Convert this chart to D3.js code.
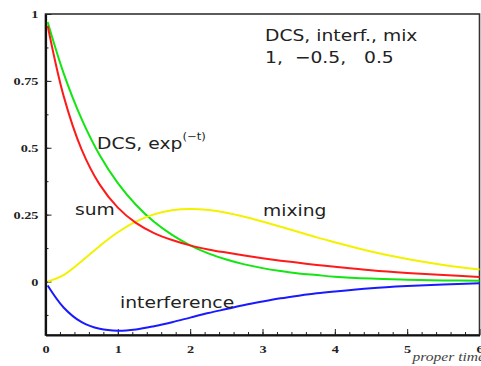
<!DOCTYPE html>
<html>
<head>
<meta charset="utf-8">
<script src="https://cdn.jsdelivr.net/npm/d3@7/dist/d3.min.js"></script>
<style>
	body { margin: 0; background: #fff; }
	svg { display: block; }
</style>
</head>
<body>
<div id="chart"></div>
<script>
// proper time samples and curve values
var times        = [0.03, 0.25, 0.5, 0.75, 1, 1.25, 1.5, 1.75, 2, 2.25, 2.5, 2.75, 3, 3.25, 3.5, 3.75, 4, 4.5, 5, 5.5, 6];
var dcs          = [0.970, 0.779, 0.607, 0.472, 0.368, 0.287, 0.223, 0.174, 0.135, 0.105, 0.082, 0.064, 0.050, 0.039, 0.030, 0.024, 0.018, 0.011, 0.007, 0.004, 0.0025];
var interference = [-0.015, -0.097, -0.152, -0.177, -0.184, -0.179, -0.167, -0.152, -0.135, -0.118, -0.103, -0.088, -0.075, -0.063, -0.053, -0.044, -0.037, -0.025, -0.017, -0.011, -0.007];
var mixing       = [0.000, 0.024, 0.076, 0.133, 0.184, 0.224, 0.251, 0.266, 0.271, 0.267, 0.257, 0.242, 0.224, 0.205, 0.185, 0.165, 0.147, 0.112, 0.084, 0.062, 0.045];
var sum          = [0.956, 0.694, 0.493, 0.362, 0.276, 0.219, 0.181, 0.155, 0.135, 0.120, 0.108, 0.097, 0.087, 0.078, 0.070, 0.062, 0.055, 0.042, 0.032, 0.024, 0.017];

var xTicks = [0, 1, 2, 3, 4, 5, 6];
var yTicks = [0, 0.25, 0.5, 0.75, 1];
var yTickLabels = ['0', '0.25', '0.5', '0.75', '1'];

var svgWidth = 481;
var svgHeight = 366;
var stretch = 1.3;     // serif labels look horizontally stretched
var sansStretch = 1.17;

var x = d3.scaleLinear().domain([0, 6]).range([45.5, 479.5]);
var y = d3.scaleLinear().domain([-0.2, 1]).range([335, 14]);

var svg = d3.select('#chart')
	.append('svg')
	.attr('width', svgWidth)
	.attr('height', svgHeight)
	.style('background', '#fff')
;

//рамка
svg.append('rect')
	.attr('x', x(0))
	.attr('y', y(1))
	.attr('width', x(6) - x(0))
	.attr('height', y(-0.2) - y(1))
	.style('fill', 'none')
	.style('stroke', '#333')
	.style('stroke-width', 1.6)
;

//minor ticks
var xMinor = d3.range(0, 30).map(function(i){ return i * 0.2; });
var yMinor = d3.range(-1, 8).map(function(i){ return i * 0.125; });

svg.append('g')
	.attr('transform', 'translate(0,' + y(-0.2) + ')')
	.call(d3.axisBottom(x).tickValues(xMinor).tickSize(-3).tickFormat(''))
	.call(function(g){ g.select('.domain').remove(); })
	.selectAll('line').style('stroke', '#222')
;
svg.append('g')
	.attr('transform', 'translate(' + x(0) + ',0)')
	.call(d3.axisLeft(y).tickValues(yMinor).tickSize(-3).tickFormat(''))
	.call(function(g){ g.select('.domain').remove(); })
	.selectAll('line').style('stroke', '#222')
;

//major ticks + labels
var xAxis = svg.append('g')
	.attr('transform', 'translate(0,' + y(-0.2) + ')')
	.call(d3.axisBottom(x).tickValues(xTicks).tickSize(-6).tickSizeOuter(0).tickPadding(10).tickFormat(d3.format('d')))
;
var yAxis = svg.append('g')
	.attr('transform', 'translate(' + x(0) + ',0)')
	.call(d3.axisLeft(y).tickValues(yTicks).tickSize(-6).tickSizeOuter(0)
		.tickFormat(function(d, i){ return yTickLabels[i]; }))
;

[xAxis, yAxis].forEach(function(a){
	a.select('.domain').style('stroke', '#111').style('stroke-width', 2.2);
	a.selectAll('line').style('stroke', '#222');
	a.selectAll('text')
		.style('font-family', '"Liberation Serif", serif')
		.style('font-weight', 'bold')
		.style('font-size', '11px')
		.style('fill', '#222')
	;
});
xAxis.selectAll('text').attr('transform', 'scale(' + stretch + ',1)');
yAxis.selectAll('text')
	.attr('x', -7 / stretch)
	.attr('transform', 'scale(' + stretch + ',1)')
;

//подпись оси
svg.append('text')
	.attr('transform', 'translate(485,361) scale(' + stretch + ',1)')
	.style('text-anchor', 'end')
	.style('font-family', '"Liberation Serif", serif')
	.style('font-style', 'italic')
	.style('font-size', '12px')
	.style('fill', '#444')
	.text('proper time')
;

//кривые
var series = [
	{ values: dcs, color: '#11e611' },
	{ values: interference, color: '#1a1aff' },
	{ values: mixing, color: '#f2f200' },
	{ values: sum, color: '#ff1a1a' }
];

var line = d3.line()
	.x(function(d){ return x(d[0]); })
	.y(function(d){ return y(d[1]); })
	.curve(d3.curveCatmullRom)
;

svg.selectAll('.curve')
	.data(series)
	.enter()
	.append('path')
	.attr('class', 'curve')
	.attr('d', function(s){
		return line(times.map(function(t, i){ return [t, s.values[i]]; }));
	})
	.style('fill', 'none')
	.style('stroke', function(s){ return s.color; })
	.style('stroke-width', 2)
;

//надписи
function label(px, py, str) {
	return svg.append('text')
		.attr('transform', 'translate(' + px + ',' + py + ') scale(' + sansStretch + ',1)')
		.style('font-family', '"DejaVu Sans", sans-serif')
		.style('font-size', '16px')
		.style('fill', '#222')
		.style('white-space', 'pre')
		.text(str)
	;
}

label(265, 41, 'DCS, interf., mix');
label(265, 63, '1,  \u22120.5,   0.5');
label(75, 215, 'sum');
label(263, 216, 'mixing');
label(120, 308, 'interference');

var dcsLabel = label(97, 149, 'DCS, exp');
dcsLabel.append('tspan')
	.attr('dy', -9)
	.style('font-size', '10px')
	.text('(\u2212t)')
;
</script>
</body>
</html>
